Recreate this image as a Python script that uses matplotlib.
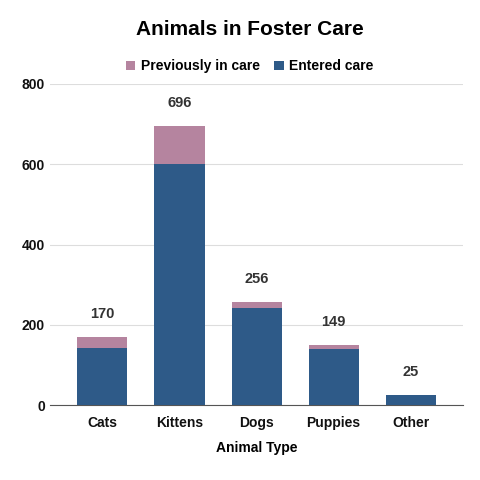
import matplotlib.pyplot as plt
import numpy as np

plt.rcParams['font.family'] = ['Liberation Sans', 'DejaVu Sans']

animals = ["Cats", "Kittens", "Dogs", "Puppies", "Other"]
entered = [143, 600, 241, 140, 25]
previous = [27, 96, 15, 9, 0]
totals = [170, 696, 256, 149, 25]

blue = "#2e5a88"
pink = "#b5849f"

fig = plt.figure(figsize=(4.8, 4.8), dpi=100)
ax = fig.add_axes([0.104, 0.156, 0.861, 0.669])

x = np.arange(len(animals))
ax.bar(x, entered, width=0.65, color=blue, label="Entered care", zorder=3)
ax.bar(x, previous, width=0.65, bottom=entered, color=pink, label="Previously in care", zorder=3)

for xi, t in zip(x, totals):
    ax.text(xi, t + 40, str(t), ha="center", va="bottom", fontsize=10.5,
            fontweight="bold", color="#333333")

ax.set_ylim(0, 800)
ax.set_xlim(-0.68, 4.68)
ax.set_yticks([0, 200, 400, 600, 800])
ax.set_xticks(x)
ax.set_xticklabels(animals)
ax.grid(axis="y", color="#dddddd", linewidth=0.8, zorder=0)
for s in ["top", "right", "left"]:
    ax.spines[s].set_visible(False)
ax.spines["bottom"].set_color("#555555")
ax.tick_params(axis="both", length=0, labelsize=10, colors="#111111")
ax.tick_params(axis="x", pad=8)
for lbl in ax.get_xticklabels() + ax.get_yticklabels():
    lbl.set_fontweight("bold")
ax.set_xlabel("Animal Type", fontsize=10, fontweight="bold", labelpad=8)

handles, labels = ax.get_legend_handles_labels()
fig.legend(handles[::-1], labels[::-1], loc="center", bbox_to_anchor=(0.52, 0.862),
           ncol=2, frameon=False, handlelength=0.7, handleheight=0.7,
           handletextpad=0.4, columnspacing=1.0, prop={"weight": "bold", "size": 10})

fig.suptitle("Animals in Foster Care", x=0.52, y=0.958, fontsize=15, fontweight="bold")

fig.savefig("out.png", dpi=100)
